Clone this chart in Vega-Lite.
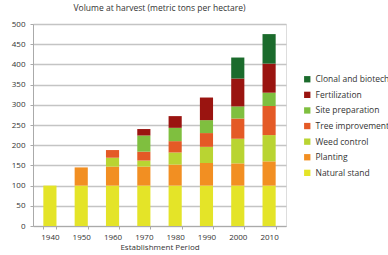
{
  "$schema": "https://vega.github.io/schema/vega-lite/v6.json",
  "autosize": {"type": "none"},
  "padding": {"left": 33, "top": 24, "right": 102, "bottom": 29},
  "width": 253,
  "height": 202,
  "background": "white",
  "title": {"text": "Volume at harvest (metric tons per hectare)", "fontSize": 8.5, "font": "Open Sans", "fontWeight": "normal", "color": "#333333", "offset": 8, "anchor": "middle"},
  "data": {"values": [
    {"period": "1940", "source": "Natural stand", "o": 1, "v": 100},
    {"period": "1950", "source": "Natural stand", "o": 1, "v": 100},
    {"period": "1950", "source": "Planting", "o": 2, "v": 45},
    {"period": "1960", "source": "Natural stand", "o": 1, "v": 100},
    {"period": "1960", "source": "Planting", "o": 2, "v": 47},
    {"period": "1960", "source": "Weed control", "o": 3, "v": 22},
    {"period": "1960", "source": "Tree improvement", "o": 4, "v": 19},
    {"period": "1970", "source": "Natural stand", "o": 1, "v": 100},
    {"period": "1970", "source": "Planting", "o": 2, "v": 47},
    {"period": "1970", "source": "Weed control", "o": 3, "v": 15},
    {"period": "1970", "source": "Tree improvement", "o": 4, "v": 22},
    {"period": "1970", "source": "Site preparation", "o": 5, "v": 40},
    {"period": "1970", "source": "Fertilization", "o": 6, "v": 16},
    {"period": "1980", "source": "Natural stand", "o": 1, "v": 100},
    {"period": "1980", "source": "Planting", "o": 2, "v": 52},
    {"period": "1980", "source": "Weed control", "o": 3, "v": 30},
    {"period": "1980", "source": "Tree improvement", "o": 4, "v": 28},
    {"period": "1980", "source": "Site preparation", "o": 5, "v": 33},
    {"period": "1980", "source": "Fertilization", "o": 6, "v": 29},
    {"period": "1990", "source": "Natural stand", "o": 1, "v": 100},
    {"period": "1990", "source": "Planting", "o": 2, "v": 56},
    {"period": "1990", "source": "Weed control", "o": 3, "v": 40},
    {"period": "1990", "source": "Tree improvement", "o": 4, "v": 34},
    {"period": "1990", "source": "Site preparation", "o": 5, "v": 32},
    {"period": "1990", "source": "Fertilization", "o": 6, "v": 56},
    {"period": "2000", "source": "Natural stand", "o": 1, "v": 100},
    {"period": "2000", "source": "Planting", "o": 2, "v": 55},
    {"period": "2000", "source": "Weed control", "o": 3, "v": 61},
    {"period": "2000", "source": "Tree improvement", "o": 4, "v": 50},
    {"period": "2000", "source": "Site preparation", "o": 5, "v": 30},
    {"period": "2000", "source": "Fertilization", "o": 6, "v": 69},
    {"period": "2000", "source": "Clonal and biotech", "o": 7, "v": 52},
    {"period": "2010", "source": "Natural stand", "o": 1, "v": 100},
    {"period": "2010", "source": "Planting", "o": 2, "v": 60},
    {"period": "2010", "source": "Weed control", "o": 3, "v": 65},
    {"period": "2010", "source": "Tree improvement", "o": 4, "v": 72},
    {"period": "2010", "source": "Site preparation", "o": 5, "v": 33},
    {"period": "2010", "source": "Fertilization", "o": 6, "v": 72},
    {"period": "2010", "source": "Clonal and biotech", "o": 7, "v": 73}
  ]},
  "mark": {"type": "bar"},
  "encoding": {
    "x": {
      "field": "period", "type": "ordinal",
      "scale": {"paddingInner": 0.58, "paddingOuter": 0.33},
      "axis": {"title": "Establishment Period", "labelAngle": 0, "tickBand": "extent", "domainColor": "#aaaaaa", "tickColor": "#aaaaaa", "tickSize": 3, "labelFontSize": 8, "labelFont": "Open Sans", "labelColor": "#333333", "labelPadding": 4, "titleFontSize": 8, "titleFont": "Open Sans", "titleFontWeight": "normal", "titleColor": "#333333", "titlePadding": 2}
    },
    "y": {
      "field": "v", "type": "quantitative", "stack": "zero",
      "scale": {"domain": [0, 500], "nice": false},
      "axis": {"title": null, "values": [0, 50, 100, 150, 200, 250, 300, 350, 400, 450, 500], "gridColor": "#c4c4c4", "gridWidth": 1.5, "domainColor": "#aaaaaa", "tickColor": "#aaaaaa", "tickSize": 3, "labelFontSize": 8, "labelFont": "Open Sans", "labelColor": "#333333", "labelPadding": 5}
    },
    "color": {
      "field": "source", "type": "nominal",
      "scale": {
        "domain": ["Clonal and biotech", "Fertilization", "Site preparation", "Tree improvement", "Weed control", "Planting", "Natural stand"],
        "range": ["#1b6b2c", "#9a1410", "#7fbf3f", "#e45a26", "#b9d432", "#f28f22", "#e4e428"]
      },
      "legend": {"title": null, "orient": "none", "legendX": 270, "legendY": 51, "symbolType": "square", "symbolSize": 40, "symbolStrokeWidth": 0, "labelFontSize": 8.5, "labelFont": "Open Sans", "labelColor": "#333333", "rowPadding": 6.6, "labelOffset": 4}
    },
    "order": {"field": "o", "type": "quantitative", "sort": "ascending"}
  }
}
